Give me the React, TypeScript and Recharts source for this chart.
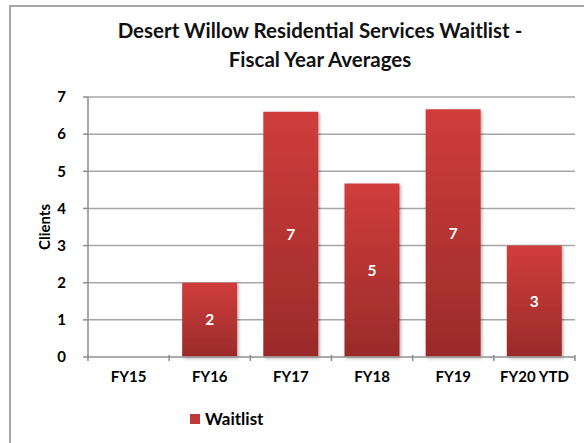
import { BarChart, Bar, XAxis, YAxis, CartesianGrid, LabelList } from 'recharts'

const years = ['FY15', 'FY16', 'FY17', 'FY18', 'FY19', 'FY20 YTD']
const waitlist = [0, 2, 6.6, 4.67, 6.67, 3]
const yTicks = [0, 1, 2, 3, 4, 5, 6, 7]

const data = years.map((year, i) => ({ year, waitlist: waitlist[i] }))

const font = 'Lato, "Open Sans", sans-serif'

const XTick = (props: any) => {
  const { x, y, payload, index, visibleTicksCount } = props
  const half = payload.offset || 0
  const isLast = index === visibleTicksCount - 1
  return (
    <g>
      <line x1={x - half} x2={x - half} y1={y - 10} y2={y - 4} stroke="#8c8c8c" strokeWidth={1.5} />
      {isLast && (
        <line x1={x + half} x2={x + half} y1={y - 10} y2={y - 4} stroke="#8c8c8c" strokeWidth={1.5} />
      )}
      <text x={x} y={y + 17} textAnchor="middle" fontFamily={font} fontWeight={700} fontSize={15} fill="#000">
        {payload.value}
      </text>
    </g>
  )
}

export default function App() {
  return (
    <div style={{ position: 'absolute', left: 0, top: 0, width: 584, height: 443, overflow: 'hidden', background: '#fff' }}>
      <div
        style={{
          position: 'absolute', left: 9, top: 5, width: 620, height: 480,
          borderLeft: '2px solid #a6a6a6', borderTop: '2px solid #a6a6a6',
        }}
      />
      <div
        style={{
          position: 'absolute', left: 90, top: 16, width: 460, textAlign: 'center',
          fontFamily: font, fontWeight: 700, fontSize: 20.5, lineHeight: '29px', color: '#111',
        }}
      >
        Desert Willow Residential Services Waitlist -<br />Fiscal Year Averages
      </div>
      <div style={{ position: 'absolute', left: 0, top: 0 }}>
        <BarChart
          width={584}
          height={443}
          data={data}
          margin={{ top: 97, right: 9, bottom: 56, left: 0 }}
          barCategoryGap="16%"
        >
          <defs>
            <linearGradient id="barFill" x1="0" y1="0" x2="0" y2="1">
              <stop offset="0%" stopColor="#d03d3b" />
              <stop offset="100%" stopColor="#9a2b2a" />
            </linearGradient>
            <filter id="barShadow" x="-20%" y="-5%" width="140%" height="115%">
              <feDropShadow dx="1.5" dy="1.5" stdDeviation="1.5" floodColor="#000" floodOpacity="0.3" />
            </filter>
          </defs>
          <CartesianGrid vertical={false} stroke="#a6a6a6" strokeWidth={1.5} />
          <XAxis
            dataKey="year"
            height={30}
            axisLine={{ stroke: '#a6a6a6', strokeWidth: 1.5 }}
            tickLine={false}
            tick={<XTick />}
            interval={0}
          />
          <YAxis
            width={88}
            domain={[0, 7]}
            ticks={yTicks}
            interval={0}
            axisLine={{ stroke: '#8c8c8c', strokeWidth: 1.5 }}
            tickLine={{ stroke: '#8c8c8c', strokeWidth: 1.5 }}
            tickSize={5}
            tickMargin={17}
            tick={{ fontFamily: font, fontWeight: 700, fontSize: 15, fill: '#000' }}
            label={{
              value: 'Clients', angle: -90, position: 'center', dx: 1,
              style: { fontFamily: font, fontWeight: 700, fontSize: 15, fill: '#000' },
            }}
          />
          <Bar dataKey="waitlist" name="Waitlist" fill="url(#barFill)" filter="url(#barShadow)" isAnimationActive={false}>
            <LabelList
              dataKey="waitlist"
              position="center"
              formatter={(v: any) => (v ? Math.round(Number(v)) : '')}
              style={{ fontFamily: font, fontWeight: 700, fontSize: 15.5, fill: '#fff' }}
            />
          </Bar>
        </BarChart>
      </div>
      <div
        style={{
          position: 'absolute', left: 190, top: 408, display: 'flex', alignItems: 'center',
          fontFamily: font, fontWeight: 700, fontSize: 17, color: '#000',
        }}
      >
        <span style={{ width: 10, height: 10, background: '#c0393a', marginRight: 5, display: 'inline-block' }} />
        Waitlist
      </div>
    </div>
  )
}
